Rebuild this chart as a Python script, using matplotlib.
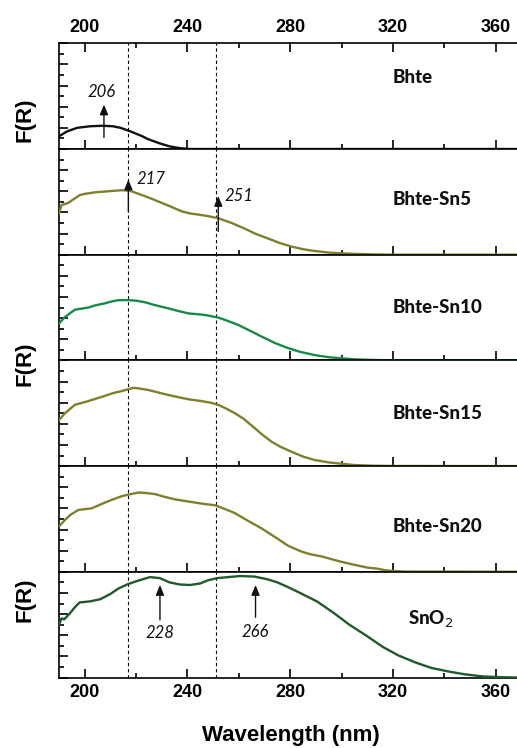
import matplotlib
matplotlib.use('Agg')
import matplotlib.pyplot as plt
from matplotlib.ticker import MultipleLocator

# ---------------- data ----------------
wl_bhte = [190, 193, 197, 202, 207, 211, 214, 218, 222, 225, 229, 233, 237, 241, 368]
f_bhte = [0.12, 0.165, 0.20, 0.215, 0.22, 0.215, 0.20, 0.165, 0.125, 0.09, 0.055, 0.025, 0.008, 0.0, 0.0]

wl_sn5 = [190, 191, 193.6, 196, 198.2, 200, 204, 209, 214.4, 217.6, 222.2, 226, 230, 234, 237.8,
          241, 244.2, 248, 252, 257.2, 262, 266.3, 272.8, 276, 280.6, 285, 289.6, 295, 300, 305,
          312, 320, 368]
f_sn5 = [0.39, 0.47, 0.49, 0.53, 0.565, 0.575, 0.59, 0.60, 0.61, 0.605, 0.565, 0.53, 0.49, 0.45, 0.41,
         0.39, 0.38, 0.365, 0.345, 0.30, 0.25, 0.20, 0.14, 0.11, 0.076, 0.052, 0.035, 0.02, 0.013, 0.008,
         0.003, 0.0, 0.0]

wl_sn10 = [190, 192.3, 196.2, 201.4, 204, 207.9, 210, 213.1, 217, 220, 223.5, 227, 231.3, 236, 240.3,
           246.8, 252, 255, 259.8, 264, 268.9, 274, 279.3, 284, 289.6, 295, 300, 305, 312, 320, 368]
f_sn10 = [0.35, 0.41, 0.48, 0.50, 0.52, 0.54, 0.555, 0.57, 0.57, 0.565, 0.55, 0.525, 0.50, 0.47, 0.445,
          0.43, 0.405, 0.38, 0.335, 0.285, 0.225, 0.165, 0.115, 0.08, 0.05, 0.03, 0.02, 0.01, 0.004, 0.001, 0.0]

wl_sn15 = [190, 192.3, 196.2, 201.4, 204, 207.9, 211, 214.4, 218.9, 221, 224.8, 231.3, 237.8, 241, 245.5,
           249, 252, 255, 258.5, 262, 266.3, 269, 272.8, 276, 280.6, 285, 289.6, 295, 300, 305, 312, 320, 368]
f_sn15 = [0.435, 0.50, 0.58, 0.615, 0.635, 0.665, 0.69, 0.71, 0.74, 0.735, 0.72, 0.68, 0.645, 0.63, 0.615,
          0.60, 0.58, 0.545, 0.50, 0.445, 0.357, 0.30, 0.23, 0.185, 0.135, 0.09, 0.057, 0.035, 0.022, 0.01,
          0.004, 0.001, 0.0]

wl_sn20 = [190, 192.3, 194.5, 197.5, 202.7, 205, 207.9, 211, 214.4, 217, 220.9, 224, 227.4, 231, 235.2,
           239, 243, 247, 250.7, 254, 258.5, 263, 268.9, 274, 279.3, 284.5, 288, 292.3, 299, 305.2, 310,
           313.8, 317, 320, 325, 368]
f_sn20 = [0.43, 0.49, 0.54, 0.585, 0.60, 0.625, 0.655, 0.685, 0.715, 0.73, 0.75, 0.745, 0.735, 0.71, 0.685,
          0.67, 0.655, 0.64, 0.63, 0.60, 0.555, 0.49, 0.41, 0.33, 0.245, 0.19, 0.165, 0.145, 0.10, 0.065, 0.04,
          0.03, 0.015, 0.008, 0.002, 0.0]

wl_sno2 = [190, 191, 192, 194, 196, 198, 202, 206, 210, 213, 216.5, 220, 225.4, 229.3, 233, 237, 241, 245,
           248, 251.5, 256, 260.5, 266, 271, 275, 278.7, 283, 290.4, 297, 303, 310, 316, 322, 329, 335,
           342, 348, 355, 362, 368]
f_sno2 = [0.50, 0.56, 0.55, 0.60, 0.66, 0.71, 0.72, 0.74, 0.79, 0.84, 0.88, 0.91, 0.95, 0.94, 0.90, 0.88,
          0.875, 0.89, 0.92, 0.94, 0.95, 0.96, 0.955, 0.93, 0.90, 0.86, 0.81, 0.72, 0.61, 0.50, 0.39, 0.29,
          0.21, 0.14, 0.09, 0.055, 0.03, 0.01, 0.003, 0.0]

samples = ["Bhte", "Bhte-Sn5", "Bhte-Sn10", "Bhte-Sn15", "Bhte-Sn20", "SnO$_2$"]
wavelengths = [wl_bhte, wl_sn5, wl_sn10, wl_sn15, wl_sn20, wl_sno2]
spectra = [f_bhte, f_sn5, f_sn10, f_sn15, f_sn20, f_sno2]
colors = ["#111111", "#7f7f2c", "#178a48", "#7f7f2c", "#7f7f2c", "#1f5a2a"]
label_x = [320, 320, 320, 320, 320, 326]
label_y = [0.68, 0.52, 0.505, 0.50, 0.43, 0.55]

ref_lines = [217, 251]
xticks = [200, 240, 280, 320, 360]

# peak arrows: (panel, x, head_y, tail_y, text, text_x, text_y, ha)
arrows = [
    (0, 207.5, 0.42, 0.11, "206", 206.7, 0.54, "center"),
    (1, 217.0, 0.71, 0.41, "217", 220.0, 0.72, "left"),
    (1, 252.0, 0.555, 0.22, "251", 254.5, 0.555, "left"),
    (5, 229.3, 0.875, 0.545, "228", 229.3, 0.42, "center"),
    (5, 266.5, 0.875, 0.57, "266", 266.3, 0.43, "center"),
]

# ---------------- figure ----------------
W, H = 517, 748
fig = plt.figure(figsize=(W / 100, H / 100), dpi=100)

left = 59 / W
top = 1 - 43.3 / H
bottom = 1 - 677.5 / H
ph = (top - bottom) / 6
xlim = (190, 190 + (W - 59) / 2.569)

axes = []
for i in range(6):
    ax = fig.add_axes([left, top - (i + 1) * ph, 1 - left, ph])
    axes.append(ax)
    ax.plot(wavelengths[i], spectra[i], color=colors[i], lw=1.7, zorder=3)
    for rl in ref_lines:
        ax.axvline(rl, color="black", lw=0.8, ls=(0, (3, 2.5)), zorder=2)
    ax.set_xlim(*xlim)
    ax.set_ylim(0, 1.0)
    ax.spines["right"].set_visible(False)
    for s in ["left", "bottom", "top"]:
        ax.spines[s].set_linewidth(1.2)
    ax.set_xticks(xticks)
    ax.xaxis.set_minor_locator(MultipleLocator(20))
    ax.yaxis.set_major_locator(MultipleLocator(0.2))
    ax.yaxis.set_minor_locator(MultipleLocator(0.1))
    ax.tick_params(axis="both", which="both", direction="in", width=1.2,
                   labelleft=False, right=False)
    ax.tick_params(axis="both", which="major", length=6.5)
    ax.tick_params(axis="both", which="minor", length=3.5)
    ax.tick_params(axis="x", which="both", top=(i == 0), labeltop=(i == 0),
                   labelbottom=(i == 5), pad=5)
    for lab in ax.get_xticklabels():
        lab.set_fontfamily("Liberation Sans")
        lab.set_fontweight("bold")
        lab.set_fontsize(13)
    ax.text(label_x[i], label_y[i], samples[i], transform=ax.get_xaxis_transform(),
            ha="left", va="center", fontsize=13.5, fontweight="black",
            family="Lato", color="#111111")

for (p, x, hy, ty, txt, tx, tyy, ha) in arrows:
    ax = axes[p]
    ax.annotate("", xy=(x, hy), xytext=(x, ty), xycoords=ax.get_xaxis_transform(),
                textcoords=ax.get_xaxis_transform(),
                arrowprops=dict(arrowstyle="-|>,head_width=0.25,head_length=0.6",
                                color="#111111", lw=1.0, shrinkA=0, shrinkB=0), zorder=5)
    ax.text(tx, tyy, txt, transform=ax.get_xaxis_transform(), ha=ha, va="center",
            fontsize=12, style="italic", family="Lato", color="#111111")

# F(R) labels
for yc in [120, 364, 600]:
    fig.text(25 / W, 1 - yc / H, "F(R)", rotation=90, ha="center", va="center",
             fontsize=16, fontweight="bold", family="Liberation Sans")

fig.text((left + 1) / 2 + 0.005, 1 - 735 / H, "Wavelength (nm)", ha="center", va="center",
         fontsize=16, fontweight="bold", family="Liberation Sans")

fig.savefig("out.png", dpi=100)
